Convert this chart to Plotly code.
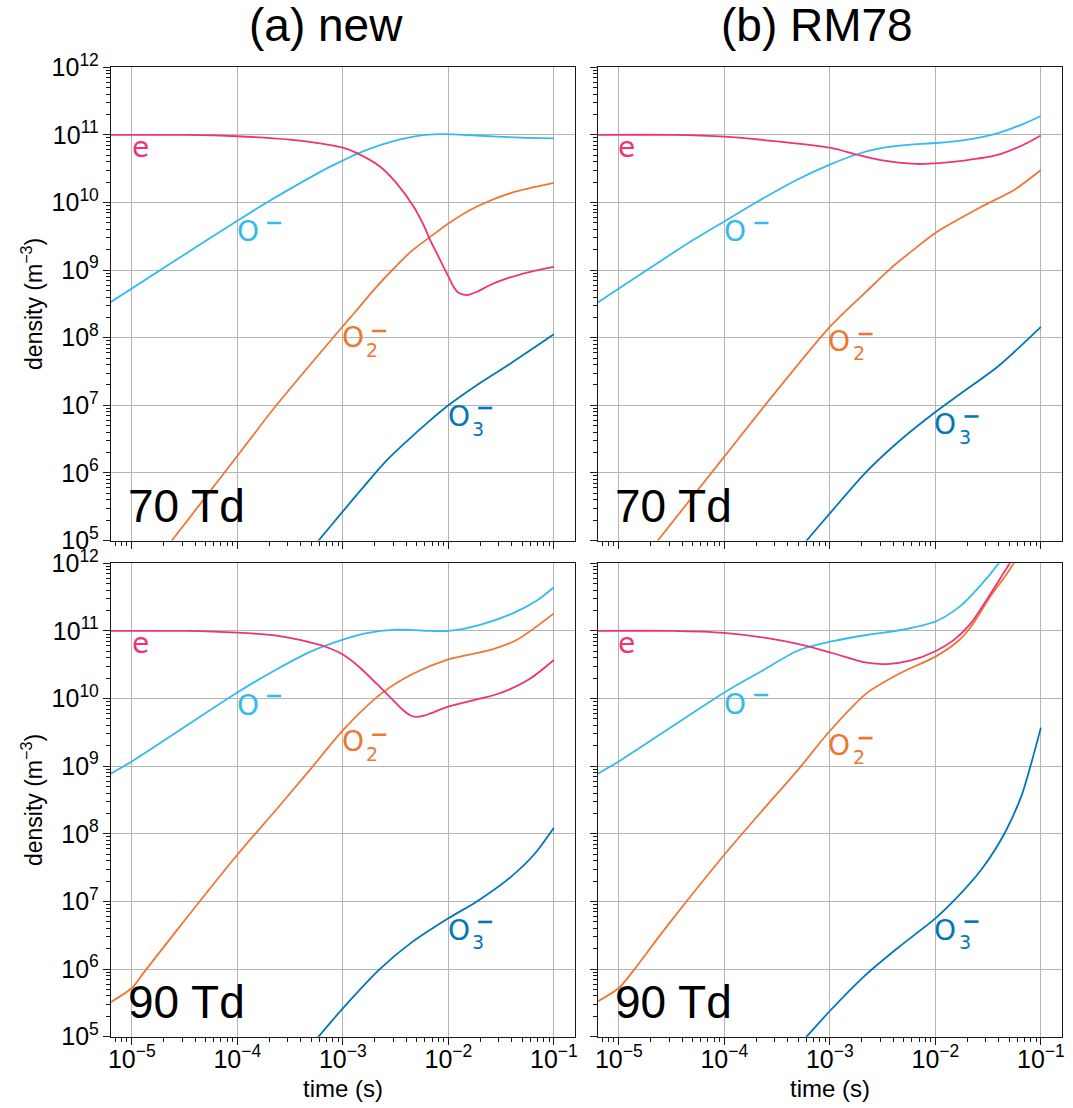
import numpy as np
import plotly.graph_objects as go

# ---------------- data (log10 of time in s, log10 of density in m^-3) ----------------
# (a) new, 70 Td
new70_e_t = [-5.2, -4.5, -4.0, -3.5, -3.2, -3.0, -2.867, -2.646, -2.488, -2.33, -2.235, -2.172, -2.109,
             -2.046, -1.998, -1.951, -1.904, -1.825, -1.73, -1.604, -1.445, -1.224, -1.0]
new70_e_n = [11.0, 11.0, 10.98, 10.93, 10.87, 10.81, 10.73, 10.53, 10.28, 9.94, 9.667, 9.444, 9.247,
             9.049, 8.90, 8.753, 8.664, 8.63, 8.68, 8.78, 8.877, 8.975, 9.049]
new70_o1_t = [-5.2, -4.6, -4.0, -3.72, -3.12, -3.0, -2.867, -2.646, -2.33, -2.077, -1.856, -1.54, -1.224, -1.0]
new70_o1_n = [8.526, 9.13, 9.73, 10.0, 10.53, 10.62, 10.72, 10.85, 10.975, 11.01, 11.0, 10.975, 10.955, 10.95]
new70_o2_t = [-5.2, -4.62, -4.0, -3.63, -3.0, -2.867, -2.70, -2.52, -2.35, -2.156, -2.0, -1.73, -1.41, -1.0]
new70_o2_n = [3.84, 5.0, 6.25, 7.0, 8.17, 8.41, 8.72, 9.02, 9.28, 9.51, 9.69, 9.94, 10.14, 10.29]
new70_o3_t = [-3.4, -3.23, -3.0, -2.8, -2.6, -2.4, -2.2, -2.0, -1.7, -1.4, -1.0]
new70_o3_n = [4.68, 5.0, 5.43, 5.80, 6.16, 6.46, 6.74, 7.0, 7.33, 7.63, 8.05]

# (b) RM78, 70 Td
rm70_e_t = [-5.2, -4.5, -4.0, -3.47, -3.0, -2.75, -2.53, -2.18, -2.0, -1.73, -1.42, -1.17, -1.0]
rm70_e_n = [11.0, 11.0, 10.975, 10.90, 10.81, 10.71, 10.63, 10.57, 10.58, 10.62, 10.70, 10.85, 10.99]
rm70_o1_t = [-5.2, -4.3, -4.0, -3.70, -3.32, -3.0, -2.75, -2.53, -2.21, -2.0, -1.74, -1.42, -1.17, -1.0]
rm70_o1_n = [8.52, 9.44, 9.72, 10.0, 10.33, 10.56, 10.71, 10.80, 10.86, 10.88, 10.92, 11.02, 11.16, 11.28]
rm70_o2_t = [-5.2, -4.63, -4.0, -3.62, -3.0, -2.67, -2.42, -2.2, -2.0, -1.56, -1.25, -1.0]
rm70_o2_n = [3.86, 5.0, 6.24, 6.99, 8.16, 8.66, 9.03, 9.31, 9.55, 9.94, 10.19, 10.48]
rm70_o3_t = [-3.4, -3.22, -3.0, -2.67, -2.35, -2.0, -1.72, -1.41, -1.0]
rm70_o3_n = [4.66, 5.0, 5.40, 5.99, 6.46, 6.90, 7.22, 7.57, 8.16]

# (a) new, 90 Td
new90_e_t = [-5.2, -4.5, -4.0, -3.63, -3.31, -3.12, -3.0, -2.84, -2.68, -2.52, -2.43, -2.36, -2.30,
             -2.22, -2.17, -2.0, -1.70, -1.55, -1.40, -1.22, -1.0]
new90_e_n = [11.0, 11.0, 10.975, 10.93, 10.83, 10.74, 10.65, 10.46, 10.22, 9.97, 9.83, 9.75, 9.73,
             9.75, 9.78, 9.88, 10.0, 10.06, 10.15, 10.30, 10.57]
new90_o1_t = [-5.2, -5.0, -4.0, -3.63, -3.31, -3.0, -2.80, -2.49, -2.17, -2.0, -1.70, -1.39, -1.16, -1.0]
new90_o1_n = [8.89, 9.07, 10.09, 10.43, 10.69, 10.87, 10.96, 11.02, 11.0, 11.0, 11.09, 11.26, 11.45, 11.645]
new90_o2_t = [-5.2, -5.0, -4.89, -4.57, -4.0, -3.63, -3.31, -3.0, -2.63, -2.33, -2.0, -1.60, -1.35, -1.0]
new90_o2_n = [5.51, 5.72, 5.94, 6.58, 7.69, 8.36, 8.95, 9.53, 10.08, 10.37, 10.58, 10.72, 10.87, 11.26]
new90_o3_t = [-3.4, -3.23, -3.0, -2.65, -2.36, -2.0, -1.73, -1.41, -1.19, -1.0]
new90_o3_n = [4.68, 5.0, 5.42, 6.0, 6.38, 6.75, 7.0, 7.36, 7.69, 8.09]

# (b) RM78, 90 Td
rm90_e_t = [-5.2, -4.5, -4.0, -3.62, -3.285, -2.97, -2.65, -2.46, -2.24, -2.0, -1.83, -1.67, -1.51,
            -1.36, -1.26, -1.1]
rm90_e_n = [11.0, 11.0, 10.97, 10.90, 10.80, 10.67, 10.53, 10.51, 10.56, 10.70, 10.86, 11.10, 11.47,
            11.84, 12.09, 12.55]
rm90_o1_t = [-5.2, -5.0, -4.0, -3.62, -3.30, -2.97, -2.65, -2.34, -2.0, -1.77, -1.58, -1.39, -1.25]
rm90_o1_n = [8.89, 9.07, 10.09, 10.43, 10.71, 10.85, 10.94, 11.01, 11.14, 11.36, 11.66, 12.02, 12.35]
rm90_o2_t = [-5.2, -5.0, -4.88, -4.57, -4.0, -3.62, -3.30, -3.0, -2.65, -2.34, -2.0, -1.77, -1.64,
             -1.48, -1.32, -1.24, -1.1]
rm90_o2_n = [5.52, 5.72, 5.94, 6.58, 7.69, 8.38, 8.95, 9.52, 10.08, 10.37, 10.62, 10.87, 11.11,
             11.51, 11.85, 12.05, 12.45]
rm90_o3_t = [-3.4, -3.22, -3.0, -2.67, -2.35, -2.0, -1.85, -1.56, -1.34, -1.18, -1.09, -1.0]
rm90_o3_n = [4.68, 5.0, 5.38, 5.90, 6.32, 6.75, 6.97, 7.48, 8.02, 8.58, 9.05, 9.57]

panel_titles = ["(a) new", "(b) RM78"]
row_labels = ["70 Td", "90 Td"]
x_title = "time (s)"
y_title = "density (m<sup>−3</sup>)"
species = ["o1", "o2", "o3", "e"]

# label anchor positions (log10 coords): O-glyph left edge / vertical centre; e centre
label_pos = {
    (0, 0): {"e": (-4.921, 10.814), "o1": (-3.992, 9.564), "o2": (-2.997, 7.996), "o3": (-1.992, 6.834)},
    (0, 1): {"e": (-4.925, 10.814), "o1": (-3.989, 9.564), "o2": (-3.003, 7.951), "o3": (-1.998, 6.709)},
    (1, 0): {"e": (-4.921, 10.821), "o1": (-3.992, 9.904), "o2": (-2.997, 9.361), "o3": (-1.992, 6.571)},
    (1, 1): {"e": (-4.925, 10.821), "o1": (-3.991, 9.919), "o2": (-3.003, 9.312), "o3": (-1.998, 6.576)},
}
td_pos = (-5.035, 5.51)

# ---------------- style ----------------
colors = {"e": "#EE3377", "o1": "#33BBEE", "o2": "#EE7733", "o3": "#0077BB"}
FONT = "Liberation Sans"
LFONT = "DejaVu Sans"
W, H = 1073, 1108
xdom = [[111 / W, 575 / W], [598 / W, 1062 / W]]
ydom = [[1 - 540.5 / H, 1 - 67.3 / H], [1 - 1036.7 / H, 1 - 563.3 / H]]

data = {
    (0, 0): {"e": (new70_e_t, new70_e_n), "o1": (new70_o1_t, new70_o1_n),
             "o2": (new70_o2_t, new70_o2_n), "o3": (new70_o3_t, new70_o3_n)},
    (0, 1): {"e": (rm70_e_t, rm70_e_n), "o1": (rm70_o1_t, rm70_o1_n),
             "o2": (rm70_o2_t, rm70_o2_n), "o3": (rm70_o3_t, rm70_o3_n)},
    (1, 0): {"e": (new90_e_t, new90_e_n), "o1": (new90_o1_t, new90_o1_n),
             "o2": (new90_o2_t, new90_o2_n), "o3": (new90_o3_t, new90_o3_n)},
    (1, 1): {"e": (rm90_e_t, rm90_e_n), "o1": (rm90_o1_t, rm90_o1_n),
             "o2": (rm90_o2_t, rm90_o2_n), "o3": (rm90_o3_t, rm90_o3_n)},
}

fig = go.Figure()
layout = dict(width=W, height=H, margin=dict(l=0, r=0, t=0, b=0), showlegend=False,
              paper_bgcolor="white", plot_bgcolor="white", font=dict(family=FONT, color="black"))
annotations = []
shapes = []

for r in range(2):
    for c in range(2):
        idx = r * 2 + c + 1
        xn = "x" if idx == 1 else f"x{idx}"
        yn = "y" if idx == 1 else f"y{idx}"
        xkey = "xaxis" if idx == 1 else f"xaxis{idx}"
        ykey = "yaxis" if idx == 1 else f"yaxis{idx}"
        common = dict(type="log", showgrid=True, gridcolor="#b5b5b5", gridwidth=1,
                      showline=True, linecolor="#1a1a1a", linewidth=1.3, mirror=True,
                      ticks="outside", ticklen=7, tickwidth=1.2, tickcolor="#1a1a1a",
                      dtick=1, exponentformat="power", zeroline=False, automargin=False,
                      tickfont=dict(family=FONT, size=20, color="black"),
                      minor=dict(ticks="outside", ticklen=4, tickwidth=1, tickcolor="#1a1a1a",
                                 dtick="D1", showgrid=False))
        xa = dict(common, range=[-5.197, -0.8], domain=xdom[c], anchor=yn,
                  showticklabels=(r == 1), ticklabelstandoff=-6)
        ya = dict(common, range=[5, 12], domain=ydom[r], anchor=xn, showticklabels=(c == 0))
        if c == 0:
            ya["title"] = dict(text=y_title, font=dict(family=FONT, size=23), standoff=2)
        layout[xkey] = xa
        layout[ykey] = ya

        for s in species:
            t, n = data[(r, c)][s]
            fig.add_trace(go.Scatter(x=10 ** np.array(t), y=10 ** np.array(n), mode="lines",
                                     line=dict(color=colors[s], width=1.8, shape="spline",
                                               smoothing=0.8),
                                     xaxis=xn, yaxis=yn, hoverinfo="skip"))

        # species labels
        lp = label_pos[(r, c)]
        ex, ey = lp["e"]
        annotations.append(dict(x=ex, y=ey, xref=xn, yref=yn, text="e", showarrow=False,
                                xanchor="center", yanchor="middle", borderpad=0, borderwidth=0,
                                font=dict(family=LFONT, size=28, color=colors["e"])))
        for s, sub, mdy in [("o1", None, 9), ("o2", "2", 7), ("o3", "3", 8.5)]:
            lx, ly = lp[s]
            annotations.append(dict(x=lx, y=ly, xref=xn, yref=yn, text="O", showarrow=False,
                                    xanchor="left", yanchor="middle", xshift=-1.5,
                                    borderpad=0, borderwidth=0,
                                    font=dict(family=LFONT, size=28, color=colors[s])))
            if sub:
                annotations.append(dict(x=lx, y=ly, xref=xn, yref=yn, text=sub, showarrow=False,
                                        xanchor="left", yanchor="middle", xshift=23, yshift=-12,
                                        borderpad=0, borderwidth=0,
                                        font=dict(family=LFONT, size=19, color=colors[s])))
            shapes.append(dict(type="line", xref=xn, yref=yn, xsizemode="pixel",
                               ysizemode="pixel", xanchor=10 ** lx, yanchor=10 ** ly,
                               x0=29, x1=43, y0=mdy, y1=mdy,
                               line=dict(color=colors[s], width=2.6)))
        # Td label
        annotations.append(dict(x=td_pos[0], y=td_pos[1], xref=xn, yref=yn, text=row_labels[r],
                                showarrow=False, xanchor="left", yanchor="middle",
                                borderpad=0, borderwidth=0,
                                font=dict(family=FONT, size=46, color="black")))

# column titles and x-axis titles
for c, tx in enumerate(panel_titles):
    cx = [325.5, 816.5][c]
    annotations.append(dict(x=cx / W, y=1 - 25 / H, xref="paper", yref="paper", text=tx,
                            showarrow=False, xanchor="center", yanchor="middle",
                            font=dict(family=FONT, size=46, color="black")))
    annotations.append(dict(x=sum(xdom[c]) / 2, y=1 - 1088 / H, xref="paper", yref="paper",
                            text=x_title, showarrow=False, xanchor="center", yanchor="middle",
                            borderpad=0, borderwidth=0,
                            font=dict(family=FONT, size=24, color="black")))

layout["annotations"] = annotations
layout["shapes"] = shapes
fig.update_layout(**layout)
fig.write_html("out.html")
